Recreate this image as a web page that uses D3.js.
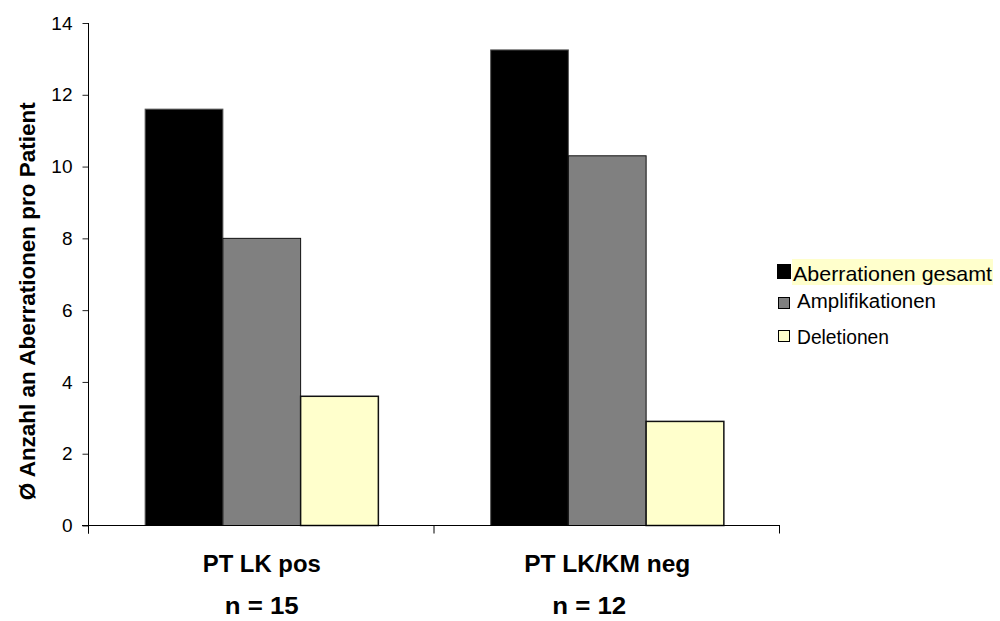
<!DOCTYPE html>
<html>
<head>
<meta charset="utf-8">
<script src="https://cdn.jsdelivr.net/npm/d3@7"></script>
<style>
  html, body { margin: 0; padding: 0; background: #fff; }
  svg { display: block; font-family: "Liberation Sans", Arial, sans-serif; }
</style>
</head>
<body>
<svg id="chart" width="1000" height="621"></svg>
<script>
// Groups of patients
const categories = ["PT LK pos", "PT LK/KM neg"];
const sampleSizes = ["n = 15", "n = 12"];
// Series (mean number of aberrations per patient)
const seriesNames = ["Aberrationen gesamt", "Amplifikationen", "Deletionen"];
const aberrationenGesamt = [11.6, 13.25];
const amplifikationen = [8.0, 10.3];
const deletionen = [3.6, 2.9];
const yTicks = [0, 2, 4, 6, 8, 10, 12, 14];
const yTitle = "Ø Anzahl an Aberrationen pro Patient";

const seriesValues = [aberrationenGesamt, amplifikationen, deletionen];
const fills = ["#000000", "#808080", "#FFFFCC"];

const svg = d3.select("#chart");
const plot = { left: 89, right: 780, top: 23, bottom: 525.5 };

const y = d3.scaleLinear().domain([0, 14]).range([plot.bottom, plot.top]);
const x0 = d3.scaleBand().domain(categories).range([plot.left, plot.right])
  .paddingInner(0.325).paddingOuter(0.1625);
const x1 = d3.scaleBand().domain(seriesNames).range([0, x0.bandwidth()]).padding(0);

// Bars
const rows = categories.map((c, i) => ({
  cat: c,
  vals: seriesNames.map((s, j) => ({ s, j, v: seriesValues[j][i] }))
}));

const groups = svg.append("g").selectAll("g").data(rows).join("g")
  .attr("transform", d => `translate(${x0(d.cat)},0)`);

groups.selectAll("rect").data(d => d.vals).join("rect")
  .attr("x", d => x1(d.s))
  .attr("y", d => y(d.v))
  .attr("width", x1.bandwidth())
  .attr("height", d => y(0) - y(d.v))
  .attr("fill", d => fills[d.j])
  .attr("stroke", d => d.j === 0 ? "#555" : "#111")
  .attr("stroke-width", d => d.j === 2 ? 1.5 : 1);

// Y axis
const yAxis = d3.axisLeft(y).tickValues(yTicks).tickSize(6).tickPadding(10).tickFormat(d3.format("d"));
const yg = svg.append("g").attr("transform", `translate(${plot.left - 0.5},0)`).call(yAxis);
yg.select(".domain").remove();
yg.selectAll(".tick line").attr("stroke", "#222");
yg.selectAll(".tick text").attr("font-size", 19).attr("fill", "#000")
  .attr("font-family", "Liberation Sans, Arial, sans-serif");
svg.append("line")
  .attr("x1", plot.left - 0.5).attr("x2", plot.left - 0.5)
  .attr("y1", plot.top).attr("y2", plot.bottom + 8)
  .attr("stroke", "#000");

// X axis baseline and category separators
svg.append("line")
  .attr("x1", plot.left - 7).attr("x2", plot.right)
  .attr("y1", plot.bottom).attr("y2", plot.bottom)
  .attr("stroke", "#000");
const sepX = [plot.left, plot.left + x0.step(), plot.right];
svg.append("g").selectAll("line").data(sepX).join("line")
  .attr("x1", d => d - 0.5).attr("x2", d => d - 0.5)
  .attr("y1", plot.bottom).attr("y2", plot.bottom + 8)
  .attr("stroke", "#000");

// Category labels
const catLen = [118, 166];
svg.append("g").selectAll("text").data(categories).join("text")
  .attr("x", d => x0(d) + x0.bandwidth() / 2)
  .attr("y", 572)
  .attr("text-anchor", "middle")
  .attr("font-size", 23).attr("font-weight", "bold")
  .attr("textLength", (d, i) => catLen[i]).attr("lengthAdjust", "spacingAndGlyphs")
  .text(d => d);

const nShift = [0, -18];
svg.append("g").selectAll("text").data(sampleSizes).join("text")
  .attr("x", (d, i) => x0(categories[i]) + x0.bandwidth() / 2 + nShift[i])
  .attr("y", 614)
  .attr("text-anchor", "middle")
  .attr("font-size", 23).attr("font-weight", "bold")
  .attr("textLength", 74).attr("lengthAdjust", "spacingAndGlyphs")
  .text(d => d);

// Y axis title
svg.append("text")
  .attr("transform", `translate(35,${(plot.top + plot.bottom) / 2 + 27}) rotate(-90)`)
  .attr("text-anchor", "middle")
  .attr("font-size", 22).attr("font-weight", "bold")
  .attr("textLength", 398).attr("lengthAdjust", "spacingAndGlyphs")
  .text(yTitle);

// Legend
const legend = svg.append("g");
legend.append("rect")
  .attr("x", 792).attr("y", 259).attr("width", 201).attr("height", 26)
  .attr("fill", "#FFFFCC");
const legendItems = [
  { box: [777, 264, 13, 14], tx: 793, ty: 281, size: 21, len: 199 },
  { box: [778, 297, 11, 11], tx: 797, ty: 308, size: 20, len: 139 },
  { box: [778, 330, 11, 11], tx: 797, ty: 344, size: 20, len: 92 }
];
legend.selectAll("rect.key").data(seriesNames).join("rect")
  .attr("class", "key")
  .attr("x", (d, i) => legendItems[i].box[0] + 0.5)
  .attr("y", (d, i) => legendItems[i].box[1] + 0.5)
  .attr("width", (d, i) => legendItems[i].box[2])
  .attr("height", (d, i) => legendItems[i].box[3])
  .attr("fill", (d, i) => fills[i])
  .attr("stroke", "#000").attr("stroke-width", 1);
legend.selectAll("text").data(seriesNames).join("text")
  .attr("x", (d, i) => legendItems[i].tx)
  .attr("y", (d, i) => legendItems[i].ty)
  .attr("font-size", (d, i) => legendItems[i].size)
  .attr("textLength", (d, i) => legendItems[i].len)
  .attr("lengthAdjust", "spacingAndGlyphs")
  .text(d => d);
</script>
</body>
</html>
